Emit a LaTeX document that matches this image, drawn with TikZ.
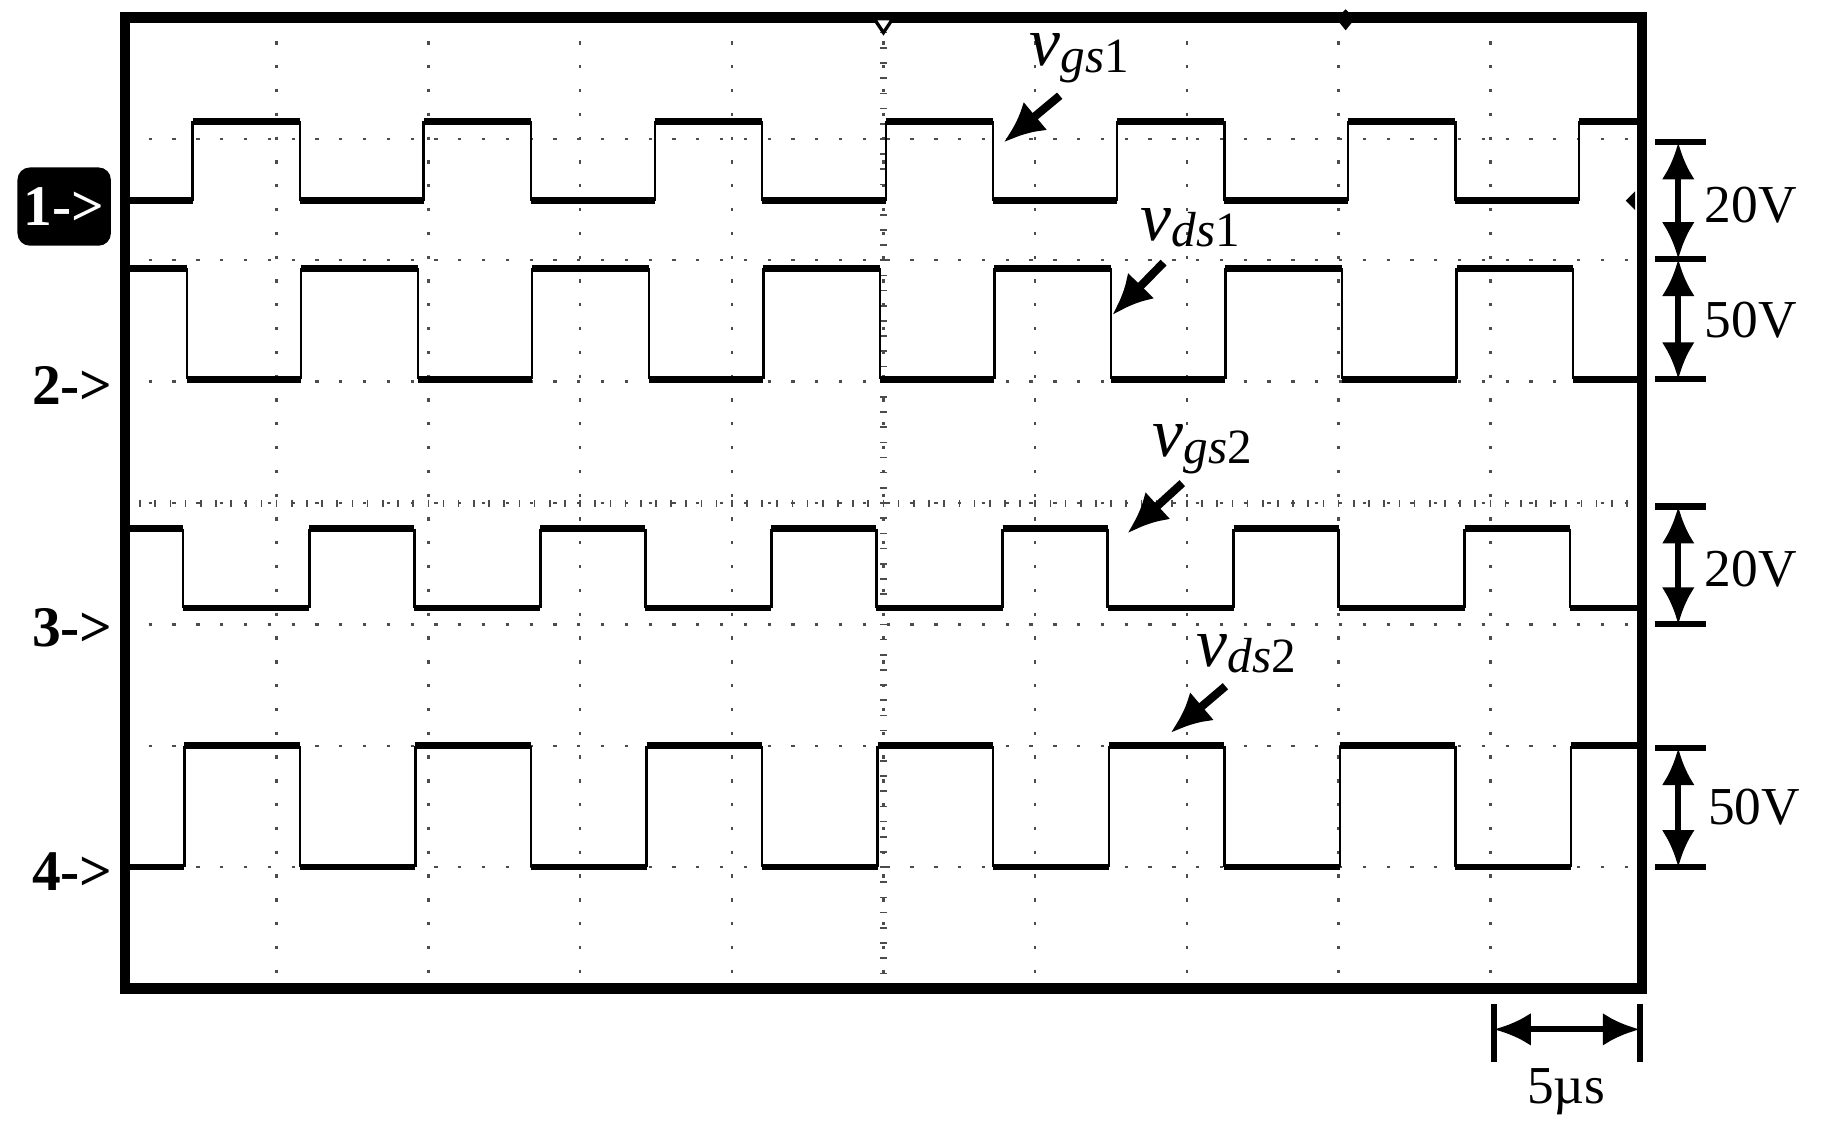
\documentclass[tikz,border=0pt]{standalone}
\usepackage{fontspec}
\setmainfont{Liberation Serif}
\usetikzlibrary{arrows.meta}
\newcommand{\vsub}[2]{{\fontsize{17}{19}\selectfont\itshape v}\raisebox{-0.35ex}{\fontsize{12}{14}\selectfont\itshape #1\upshape #2}}
\begin{document}
\begin{tikzpicture}[x=0.01cm,y=-0.01cm,
  grid/.style={line width=0.6pt,dash pattern=on 0.8pt off 5pt,black!70},
  hw/.style={line width=1.6pt},
  vw/.style={line width=0.6pt},
  lbl/.style={font=\fontsize{13}{15}\selectfont},
  vlbl/.style={inner sep=0pt},
  pt/.style={-{Latex[length=10pt,width=9pt]},line width=2pt},
  dim/.style={{Latex[length=9pt,width=8pt]}-{Latex[length=9pt,width=8pt]},line width=1.5pt},
  ch/.style={font=\fontsize{14}{16}\selectfont\bfseries}]
\useasboundingbox (0,0) rectangle (1568,976);
% grid
\foreach \x in {237,367,497,627,757,887,1017,1147,1277} \draw[grid] (\x,15)--(\x,847);
\foreach \y in {119,223,327,431,535,639,743} \draw[grid] (107,\y)--(1407,\y);
\foreach \y in {28,41,...,840} \draw[line width=0.4pt,black!70] (754,\y)--(760,\y);
\foreach \x in {120,133,...,1400} \draw[line width=0.4pt,black!70] (\x,428)--(\x,434);
% waveforms
\begin{scope}
\clip (107,15) rectangle (1407,847);
\foreach \k in {-1,...,6}{
 \pgfmathsetmacro\a{165+198*\k}
 \draw[hw] (\a,104)--(\a+92,104) (\a+92,172)--(\a+198,172);
 \draw[vw] (\a,172)--(\a,104) (\a+92,104)--(\a+92,172);
 \pgfmathsetmacro\b{160+198*\k}
 \draw[hw] (\b,325)--(\b+98,325) (\b+98,230)--(\b+198,230);
 \draw[vw] (\b,230)--(\b,325) (\b+98,325)--(\b+98,230);
 \pgfmathsetmacro\c{265+198*\k}
 \draw[hw] (\c,453)--(\c+90,453) (\c+90,521)--(\c+198,521);
 \draw[vw] (\c,521)--(\c,453) (\c+90,453)--(\c+90,521);
 \pgfmathsetmacro\d{158+198*\k}
 \draw[hw] (\d,639)--(\d+99,639) (\d+99,743)--(\d+198,743);
 \draw[vw] (\d,743)--(\d,639) (\d+99,639)--(\d+99,743);
}
\end{scope}
\draw[line width=2.5pt] (107,15) rectangle (1407,847);
% top markers
\draw[line width=0.8pt,fill=white] (749,16)--(765,16)--(757,28)--cycle;
\fill (1145,16)--(1153,8)--(1161,16)--(1153,26)--cycle;
\fill (1393,172)--(1401,164)--(1401,180)--cycle;
% channel markers
\node[fill=black,rounded corners=3pt,minimum width=0.8cm,minimum height=0.67cm,text=white,ch,inner sep=0pt] (c1) at (55,177) {1->};
\node[ch] (c2) at (62,330) {2->};
\node[ch] (c3) at (62,538) {3->};
\node[ch] (c4) at (62,747) {4->};
% labels
\node[vlbl] (l1) at (925,50) {\vsub{gs}{1}};
\coordinate (e1) at (860,122);
\draw[pt] (908,82)--(e1);
\node[vlbl] (l2) at (1020,195) {\vsub{ds}{1}};
\coordinate (e2) at (953,270);
\draw[pt] (997,225)--(e2);
\node[vlbl] (l3) at (1030,385) {\vsub{gs}{2}};
\coordinate (e3) at (966,457);
\draw[pt] (1013,414)--(e3);
\node[vlbl] (l4) at (1068,560) {\vsub{ds}{2}};
\coordinate (e4) at (1003,628);
\draw[pt] (1050,588)--(e4);
% scales
\foreach \y in {122,222,325,434,535,641,743} \draw[line width=1.5pt] (1418,\y)--(1462,\y);
\coordinate (a1) at (1438,122); \coordinate (a2) at (1438,222);
\coordinate (a3) at (1438,325); \coordinate (a4) at (1438,434);
\coordinate (a5) at (1438,535); \coordinate (a6) at (1438,641);
\coordinate (a7) at (1438,743);
\draw[dim] (a1)--(a2); \draw[dim] (a2)--(a3); \draw[dim] (a4)--(a5); \draw[dim] (a6)--(a7);
\node[lbl] (s1) at (1500,176) {20V};
\node[lbl] (s2) at (1500,274) {50V};
\node[lbl] (s3) at (1500,488) {20V};
\node[lbl] (s4) at (1503,692) {50V};
\draw[line width=1.5pt] (1280,860)--(1280,910) (1405,860)--(1405,910);
\coordinate (t1) at (1280,882); \coordinate (t2) at (1405,882);
\draw[dim] (t1)--(t2);
\node[lbl] (s5) at (1342,935) {5\textmu s};
\end{tikzpicture}
\end{document}
